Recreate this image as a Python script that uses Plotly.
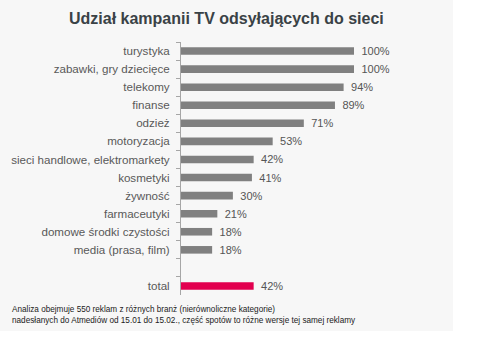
import plotly.graph_objects as go

categories = ["turystyka", "zabawki, gry dziecięce", "telekomy", "finanse", "odzież",
              "motoryzacja", "sieci handlowe, elektromarkety", "kosmetyki", "żywność",
              "farmaceutyki", "domowe środki czystości", "media (prasa, film)", " ", "total"]
values = [100, 100, 94, 89, 71, 53, 42, 41, 30, 21, 18, 18, None, 42]
labels = ["100%", "100%", "94%", "89%", "71%", "53%", "42%", "41%", "30%", "21%", "18%", "18%", "", "42%"]

title_text = "Udział kampanii TV odsyłających do sieci"
note_lines = ["Analiza obejmuje 550 reklam z różnych branż (nierównoliczne kategorie)",
              "nadesłanych do Atmediów od 15.01 do 15.02., część spotów to różne wersje tej samej reklamy"]

GREY = "#808080"
RED = "#e2004f"
colors = [RED if c == "total" else GREY for c in categories]

W, H = 481, 342
L, R, T, B = 181, 127, 42, 47
pw, ph = W - L - R, H - T - B

fig = go.Figure(go.Bar(
    x=values, y=categories, orientation="h",
    marker=dict(color=colors, line=dict(width=0)),
    text=["\u2009\u2009" + t for t in labels], textposition="outside",
    constraintext="none",
    textfont=dict(family="Liberation Sans, Arial", size=11, color="#555555"),
    cliponaxis=False, hoverinfo="skip", width=0.42,
))

fig.update_layout(
    width=W, height=H, margin=dict(l=L, r=R, t=T, b=B),
    paper_bgcolor="white", plot_bgcolor="#f7f7f7",
    showlegend=False, uniformtext=dict(minsize=11, mode="show"),
    font=dict(family="Liberation Sans, Arial", size=11, color="#555555"),
    xaxis=dict(range=[0, 100], visible=False, fixedrange=True),
    yaxis=dict(categoryorder="array", categoryarray=categories, autorange="reversed",
               type="category", showline=True, linecolor="#a6a6a6", linewidth=1,
               ticks="outside", ticklen=4, tickcolor="#a6a6a6", tickson="boundaries",
               showgrid=False, ticklabelstandoff=8,
               tickfont=dict(family="Liberation Sans, Arial", size=11.6, color="#595959")),
    shapes=[dict(type="rect", xref="paper", yref="paper", layer="below",
                 x0=-L / pw, x1=(453 - L) / pw, y0=(295 - 331) / ph, y1=1 + T / ph,
                 fillcolor="#f7f7f7", line=dict(width=0))],
    annotations=[
        dict(text="<b>" + title_text + "</b>", xref="paper", yref="paper",
             x=(226 - L) / pw, y=1 + (T - 18) / ph, xanchor="center", yanchor="middle",
             showarrow=False, font=dict(family="Liberation Sans, Arial", size=16, color="#3a4246")),
        dict(text="<br>".join(note_lines), xref="paper", yref="paper",
             x=(10 - L) / pw, y=(295 - 303) / ph, xanchor="left", yanchor="top", align="left",
             showarrow=False, font=dict(family="Liberation Sans, Arial Narrow", size=8.2, color="#222222")),
    ],
)

fig.write_html("out.html")
